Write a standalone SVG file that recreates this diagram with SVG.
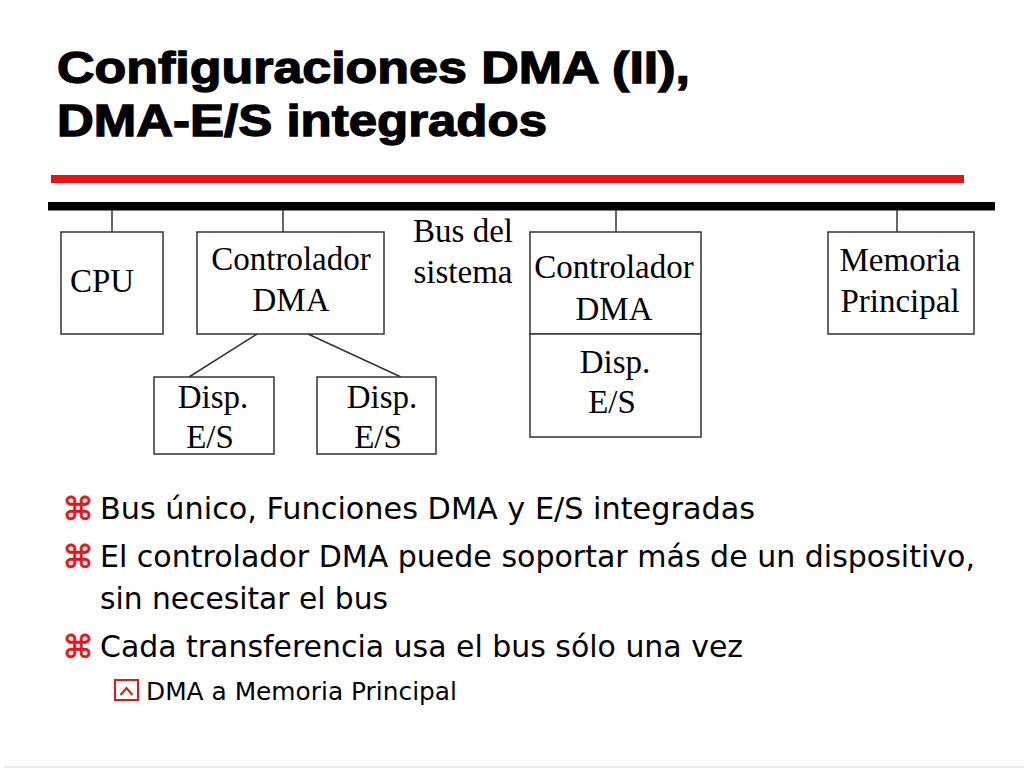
<svg xmlns="http://www.w3.org/2000/svg" width="1024" height="768" viewBox="0 0 1024 768">
<style>
.box{fill:#fff;stroke:#333;stroke-width:1.5}
.lbl{font-family:"Liberation Serif","Times New Roman",serif;font-size:33px;fill:#000;text-anchor:middle}
.ttl{font-family:"Liberation Sans",Arial,sans-serif;font-size:44px;font-weight:bold;fill:#000;stroke:#000;stroke-width:1.3}
.body{font-family:"DejaVu Sans",Verdana,sans-serif;font-size:31px;fill:#000}
.sub{font-family:"DejaVu Sans",Verdana,sans-serif;font-size:25px;fill:#000}
.bul{font-family:"DejaVu Sans",sans-serif;font-size:32px;fill:#e8141c;stroke:#e8141c;stroke-width:0.6}
.conn{stroke:#333;stroke-width:1.5;fill:none}
</style>
<rect width="1024" height="768" fill="#fff"/>
<g id="title">
<text class="ttl" x="57" y="83" textLength="633" lengthAdjust="spacingAndGlyphs">Configuraciones DMA (II),</text>
<text class="ttl" x="57" y="136" textLength="490" lengthAdjust="spacingAndGlyphs">DMA-E/S integrados</text>
</g>
<rect x="51" y="175" width="913" height="8" fill="#f01010"/>
<g id="bus">
<rect x="48" y="202" width="947" height="8.5" fill="#000"/>
<text class="lbl" x="463" y="242">Bus del</text>
<text class="lbl" x="463" y="283">sistema</text>
</g>
<g id="connectors">
<line class="conn" x1="112" y1="210" x2="112" y2="232"/>
<line class="conn" x1="283" y1="210" x2="283" y2="232"/>
<line class="conn" x1="616" y1="210" x2="616" y2="232"/>
<line class="conn" x1="897" y1="210" x2="897" y2="232"/>
<line class="conn" x1="257" y1="334" x2="189" y2="377"/>
<line class="conn" x1="308" y1="334" x2="401" y2="377"/>
</g>
<g id="cpu">
<rect class="box" x="61" y="232" width="102" height="102"/>
<text class="lbl" x="102" y="292">CPU</text>
</g>
<g id="dma1">
<rect class="box" x="197" y="232" width="187" height="102"/>
<text class="lbl" x="291" y="270">Controlador</text>
<text class="lbl" x="291" y="311">DMA</text>
</g>
<g id="disp1">
<rect class="box" x="154" y="377" width="120" height="77"/>
<text class="lbl" x="213" y="408">Disp.</text>
<text class="lbl" x="210" y="448">E/S</text>
</g>
<g id="disp2">
<rect class="box" x="317" y="377" width="119" height="77"/>
<text class="lbl" x="382" y="408">Disp.</text>
<text class="lbl" x="378" y="448">E/S</text>
</g>
<g id="dma2">
<rect class="box" x="530" y="232" width="171" height="102"/>
<text class="lbl" x="614" y="278">Controlador</text>
<text class="lbl" x="614" y="320">DMA</text>
</g>
<g id="disp3">
<rect class="box" x="530" y="334" width="171" height="103"/>
<text class="lbl" x="615" y="373">Disp.</text>
<text class="lbl" x="612" y="413">E/S</text>
</g>
<g id="mem">
<rect class="box" x="828" y="232" width="146" height="102"/>
<text class="lbl" x="900" y="271">Memoria</text>
<text class="lbl" x="900" y="312">Principal</text>
</g>
<g id="bullets">
<text class="bul" x="62" y="520">⌘</text>
<text class="body" x="100" y="519" textLength="655" lengthAdjust="spacingAndGlyphs">Bus único, Funciones DMA y E/S integradas</text>
<text class="bul" x="62" y="568">⌘</text>
<text class="body" x="100" y="567" textLength="875" lengthAdjust="spacingAndGlyphs">El controlador DMA puede soportar más de un dispositivo,</text>
<text class="body" x="100" y="609" textLength="288" lengthAdjust="spacingAndGlyphs">sin necesitar el bus</text>
<text class="bul" x="62" y="658">⌘</text>
<text class="body" x="100" y="657" textLength="643" lengthAdjust="spacingAndGlyphs">Cada transferencia usa el bus sólo una vez</text>
<rect x="115" y="680" width="23" height="20" fill="none" stroke="#e8141c" stroke-width="2"/>
<polyline points="120.5,695 126.5,688 132.5,695" fill="none" stroke="#e8141c" stroke-width="2"/>
<text class="sub" x="146" y="700" textLength="311" lengthAdjust="spacingAndGlyphs">DMA a Memoria Principal</text>
</g>
<line x1="4" y1="767" x2="1024" y2="767" stroke="#e6e6e6" stroke-width="1.5"/>
</svg>
